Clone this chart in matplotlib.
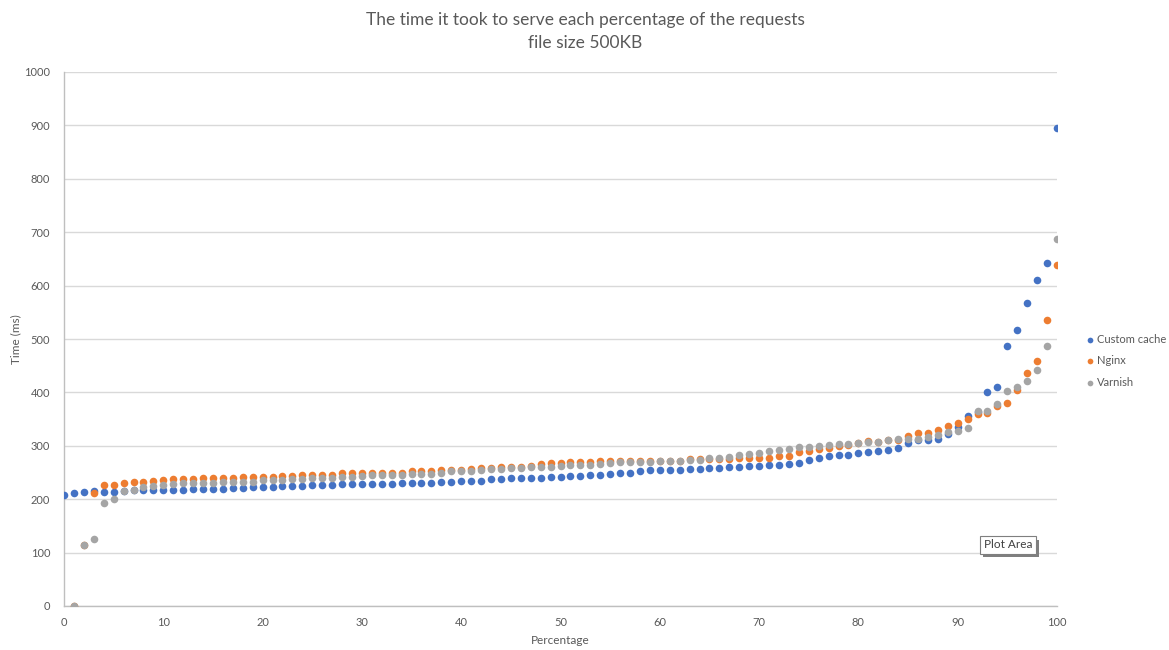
import matplotlib
matplotlib.use("Agg")
import matplotlib.pyplot as plt
from matplotlib.patches import Rectangle

plt.rcParams['font.family'] = ['Lato', 'DejaVu Sans']

# Response time (ms) at each percentile of served requests
pct_custom = list(range(0, 101))
custom_cache = [
    208, 211, 213, 215, 214, 214, 216, 217, 217, 218,
    218, 218, 218, 219, 219, 220, 220, 221, 221, 222,
    222, 223, 224, 224, 225, 226, 226, 226, 228, 228,
    228, 229, 229, 229, 230, 230, 231, 231, 232, 233,
    234, 235, 235, 237, 237, 239, 239, 239, 239, 241,
    241, 243, 243, 245, 245, 247, 249, 249, 252, 254,
    254, 254, 254, 256, 256, 258, 258, 260, 260, 262,
    262, 264, 264, 266, 267, 273, 277, 281, 283, 283,
    286, 288, 291, 292, 296, 305, 310, 311, 313, 322,
    336, 355, 364, 400, 411, 486, 516, 568, 610, 643,
    895,
]

pct_other = list(range(1, 101))
nginx = [
    0, 114, 211, 226, 226, 230, 233, 233, 235, 236,
    238, 238, 238, 239, 239, 239, 239, 241, 241, 241,
    241, 244, 244, 246, 246, 246, 246, 249, 249, 249,
    250, 250, 250, 250, 252, 252, 252, 255, 255, 255,
    256, 258, 258, 261, 261, 261, 263, 266, 267, 267,
    269, 269, 269, 271, 272, 272, 272, 272, 271, 272,
    272, 272, 275, 275, 275, 275, 276, 277, 277, 278,
    278, 281, 281, 289, 291, 294, 296, 299, 302, 305,
    309, 308, 311, 311, 319, 324, 324, 330, 337, 342,
    351, 360, 362, 375, 380, 405, 436, 459, 535, 639,
]
varnish = [
    0, 114, 125, 192, 201, 216, 217, 223, 225, 227,
    228, 230, 230, 230, 230, 233, 233, 233, 233, 236,
    236, 236, 238, 238, 240, 240, 240, 241, 242, 243,
    245, 245, 246, 246, 247, 248, 248, 250, 252, 253,
    253, 255, 256, 257, 258, 259, 260, 261, 261, 262,
    264, 264, 264, 266, 267, 269, 269, 270, 270, 271,
    271, 272, 273, 274, 277, 277, 279, 282, 285, 286,
    290, 292, 294, 297, 297, 300, 302, 304, 304, 305,
    307, 308, 310, 312, 313, 313, 317, 321, 326, 327,
    334, 365, 366, 379, 402, 410, 422, 442, 487, 688,
]

series_names = ["Custom cache", "Nginx", "Varnish"]
colors = ["#4472C4", "#ED7D31", "#A5A5A5"]
text_col = "#595959"
grid_col = "#D9D9D9"

fig = plt.figure(figsize=(11.69, 6.5), dpi=100)
ax = fig.add_axes([64 / 1169, 44 / 650, (1057 - 64) / 1169, (606 - 72) / 650])

ax.scatter(pct_custom, custom_cache, s=30, color=colors[0], label=series_names[0],
           zorder=3, linewidths=0)
ax.scatter(pct_other, nginx, s=30, color=colors[1], label=series_names[1],
           zorder=4, linewidths=0)
ax.scatter(pct_other, varnish, s=30, color=colors[2], label=series_names[2],
           zorder=5, linewidths=0)

ax.set_xlim(0, 100)
ax.set_ylim(0, 1000)
ax.set_xticks(range(0, 101, 10))
ax.set_yticks(range(0, 1001, 100))
ax.grid(axis='y', color=grid_col, linewidth=1)
ax.set_axisbelow(True)
for side in ("top", "right"):
    ax.spines[side].set_visible(False)
for side in ("left", "bottom"):
    ax.spines[side].set_color("#BFBFBF")
    ax.spines[side].set_linewidth(1)
ax.tick_params(axis='both', length=0, labelsize=8, colors=text_col, pad=10)
ax.tick_params(axis='x', pad=8)

ax.set_xlabel("Percentage", fontsize=8.5, color=text_col, labelpad=5)
ax.set_ylabel("Time (ms)", fontsize=8.5, color=text_col, labelpad=2)

fig.text(585 / 1169, 1 - 20 / 650, "The time it took to serve each percentage of the requests",
         ha='center', va='center', fontsize=12.5, color=text_col)
fig.text(585 / 1169, 1 - 43 / 650, "file size 500KB",
         ha='center', va='center', fontsize=12.5, color=text_col)

leg = ax.legend(loc='center left', bbox_to_anchor=(1.022, 0.459), frameon=False,
                fontsize=8, handletextpad=0.0, labelspacing=0.95,
                markerscale=0.75, handlelength=1.2, borderaxespad=0)
for t in leg.get_texts():
    t.set_color(text_col)

# hover tooltip over the plot area, with its drop shadow
fig.patches.append(Rectangle((983 / 1169, 1 - 557 / 650), 56 / 1169, 17 / 650,
                             transform=fig.transFigure, facecolor='#7F7F7F',
                             edgecolor='none', zorder=2))
fig.text(1008 / 1169, 1 - 545 / 650, "Plot Area", ha='center', va='center',
         fontsize=8.5, color="#404040", zorder=3,
         bbox=dict(boxstyle='square,pad=0.3', facecolor='white',
                   edgecolor='#7F7F7F', linewidth=0.8))

fig.savefig("out.png", dpi=100, facecolor='white')
